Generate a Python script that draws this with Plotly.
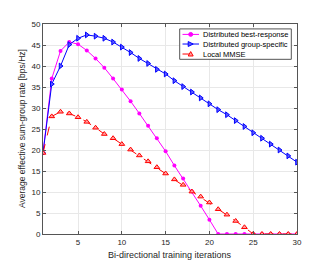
import plotly.graph_objects as go

iterations = list(range(1, 31))
best_response = [19.3, 37.0, 43.6, 45.7, 45.2, 43.7, 41.8, 39.6, 37.0, 34.4,
                 31.6, 28.7, 25.8, 22.8, 19.7, 16.3, 13.2, 10.1, 6.7, 3.4,
                 0, 0, 0, 0, 0, 0, 0, 0, 0, 0]
group_specific = [19.3, 35.7, 40.0, 45.1, 46.6, 47.4, 47.1, 46.6, 45.7, 44.5,
                  43.2, 41.8, 40.6, 39.2, 38.1, 36.5, 35.1, 33.8, 32.4, 31.0,
                  29.6, 28.4, 27.0, 25.6, 24.1, 22.8, 21.4, 20.0, 18.6, 17.1]
local_mmse = [19.3, 28.0, 29.1, 28.7, 27.8, 26.7, 25.3, 23.8, 22.8, 21.4,
              20.1, 18.7, 17.3, 15.9, 14.4, 13.0, 11.7, 10.1, 8.9, 7.5,
              5.9, 4.6, 3.1, 1.6, 0, 0, 0, 0, 0, 0]
series_names = ["Distributed best-response", "Distributed group-specific", "Local MMSE"]
x_ticks = [5, 10, 15, 20, 25, 30]
y_ticks = [0, 5, 10, 15, 20, 25, 30, 35, 40, 45, 50]

FONT = "Liberation Sans, Arial, sans-serif"
W, H = 320, 255          # page has an 8px body margin
ML, MR, MT, MB = 35, 31, 12, 29
PW, PH = W - ML - MR, H - MT - MB


def px(fx):
    return (fx - ML) / PW


def py(fy):
    return (MT + PH - fy) / PH


colors = ["#FF00FF", "#0000FF", "#FF0000"]
fills = ["#FF00FF", "#5a5aff", "#ffa0a0"]
dashes = ["solid", "solid", "dash"]

fig = go.Figure()
fig.add_trace(go.Scatter(
    x=iterations, y=best_response, name=series_names[0], mode="lines+markers",
    line=dict(color=colors[0], width=1),
    marker=dict(symbol="circle", size=4, color=fills[0])))
fig.add_trace(go.Scatter(
    x=iterations, y=group_specific, name=series_names[1], mode="lines+markers",
    line=dict(color=colors[1], width=1),
    marker=dict(symbol="triangle-right", size=5, color=fills[1],
                line=dict(color=colors[1], width=1))))
fig.add_trace(go.Scatter(
    x=iterations, y=local_mmse, name=series_names[2], mode="lines+markers",
    line=dict(color=colors[2], width=1, dash=dashes[2]),
    marker=dict(symbol="triangle-up", size=5, color=fills[2],
                line=dict(color=colors[2], width=1))))

axis_common = dict(
    showgrid=True, gridcolor="#e8e8e8", gridwidth=1,
    showline=True, linecolor="#555555", linewidth=1, mirror="ticks",
    ticks="inside", ticklen=3, tickcolor="#555555",
    tickfont=dict(family=FONT, size=8, color="#262626"),
    zeroline=False,
)

# ---- custom compact legend (MATLAB style) ----
shapes = []
annotations = []
box = (171.7, 17, 283.3, 48)
shapes.append(dict(type="rect", xref="paper", yref="paper",
                   x0=px(box[0]), x1=px(box[2]), y0=py(box[3]), y1=py(box[1]),
                   line=dict(color="#555555", width=1), fillcolor="white", layer="above"))
rows = [22.6, 32.4, 42.6]
s0, s1, mx, tx = 174.5, 191.0, 182.7, 192.5
for i, name in enumerate(series_names):
    ry = rows[i]
    shapes.append(dict(type="line", xref="paper", yref="paper",
                       x0=px(s0), x1=px(s1), y0=py(ry), y1=py(ry),
                       line=dict(color=colors[i], width=1, dash=dashes[i]), layer="above"))
    if i == 0:
        r = 2
        shapes.append(dict(type="circle", xref="paper", yref="paper",
                           x0=px(mx - r), x1=px(mx + r), y0=py(ry + r), y1=py(ry - r),
                           line=dict(color=colors[i], width=1), fillcolor=fills[i], layer="above"))
    elif i == 1:
        a = 2.5
        path = "M {} {} L {} {} L {} {} Z".format(px(mx - a), py(ry - a), px(mx + a), py(ry),
                                                  px(mx - a), py(ry + a))
        shapes.append(dict(type="path", xref="paper", yref="paper", path=path,
                           line=dict(color=colors[i], width=1), fillcolor=fills[i], layer="above"))
    else:
        a = 2.5
        path = "M {} {} L {} {} L {} {} Z".format(px(mx - a), py(ry + 2), px(mx + a), py(ry + 2),
                                                  px(mx), py(ry - 2.5))
        shapes.append(dict(type="path", xref="paper", yref="paper", path=path,
                           line=dict(color=colors[i], width=1), fillcolor=fills[i], layer="above"))
    annotations.append(dict(text=name, xref="paper", yref="paper", x=px(tx), y=py(ry),
                            xanchor="left", yanchor="middle", showarrow=False,
                            font=dict(family=FONT, size=7.5, color="#000000")))

annotations.append(dict(text="Bi-directional training iterations", xref="paper", yref="paper",
                        x=0.5, y=0, yshift=-21, xanchor="center", yanchor="middle",
                        showarrow=False, font=dict(family=FONT, size=9, color="#262626")))
annotations.append(dict(text="Average effective sum-group rate [bps/Hz]", xref="paper", yref="paper",
                        x=0, y=0.5, xshift=-21, xanchor="center", yanchor="middle", textangle=-90,
                        showarrow=False, font=dict(family=FONT, size=8.5, color="#262626")))

fig.update_layout(
    width=W, height=H,
    margin=dict(l=ML, r=MR, t=MT, b=MB),
    paper_bgcolor="white", plot_bgcolor="white",
    showlegend=False,
    xaxis=dict(range=[1, 30], tickvals=x_ticks, **axis_common),
    yaxis=dict(range=[0, 50], tickvals=y_ticks, **axis_common),
    shapes=shapes,
    annotations=annotations,
)

fig.write_html("out.html")
